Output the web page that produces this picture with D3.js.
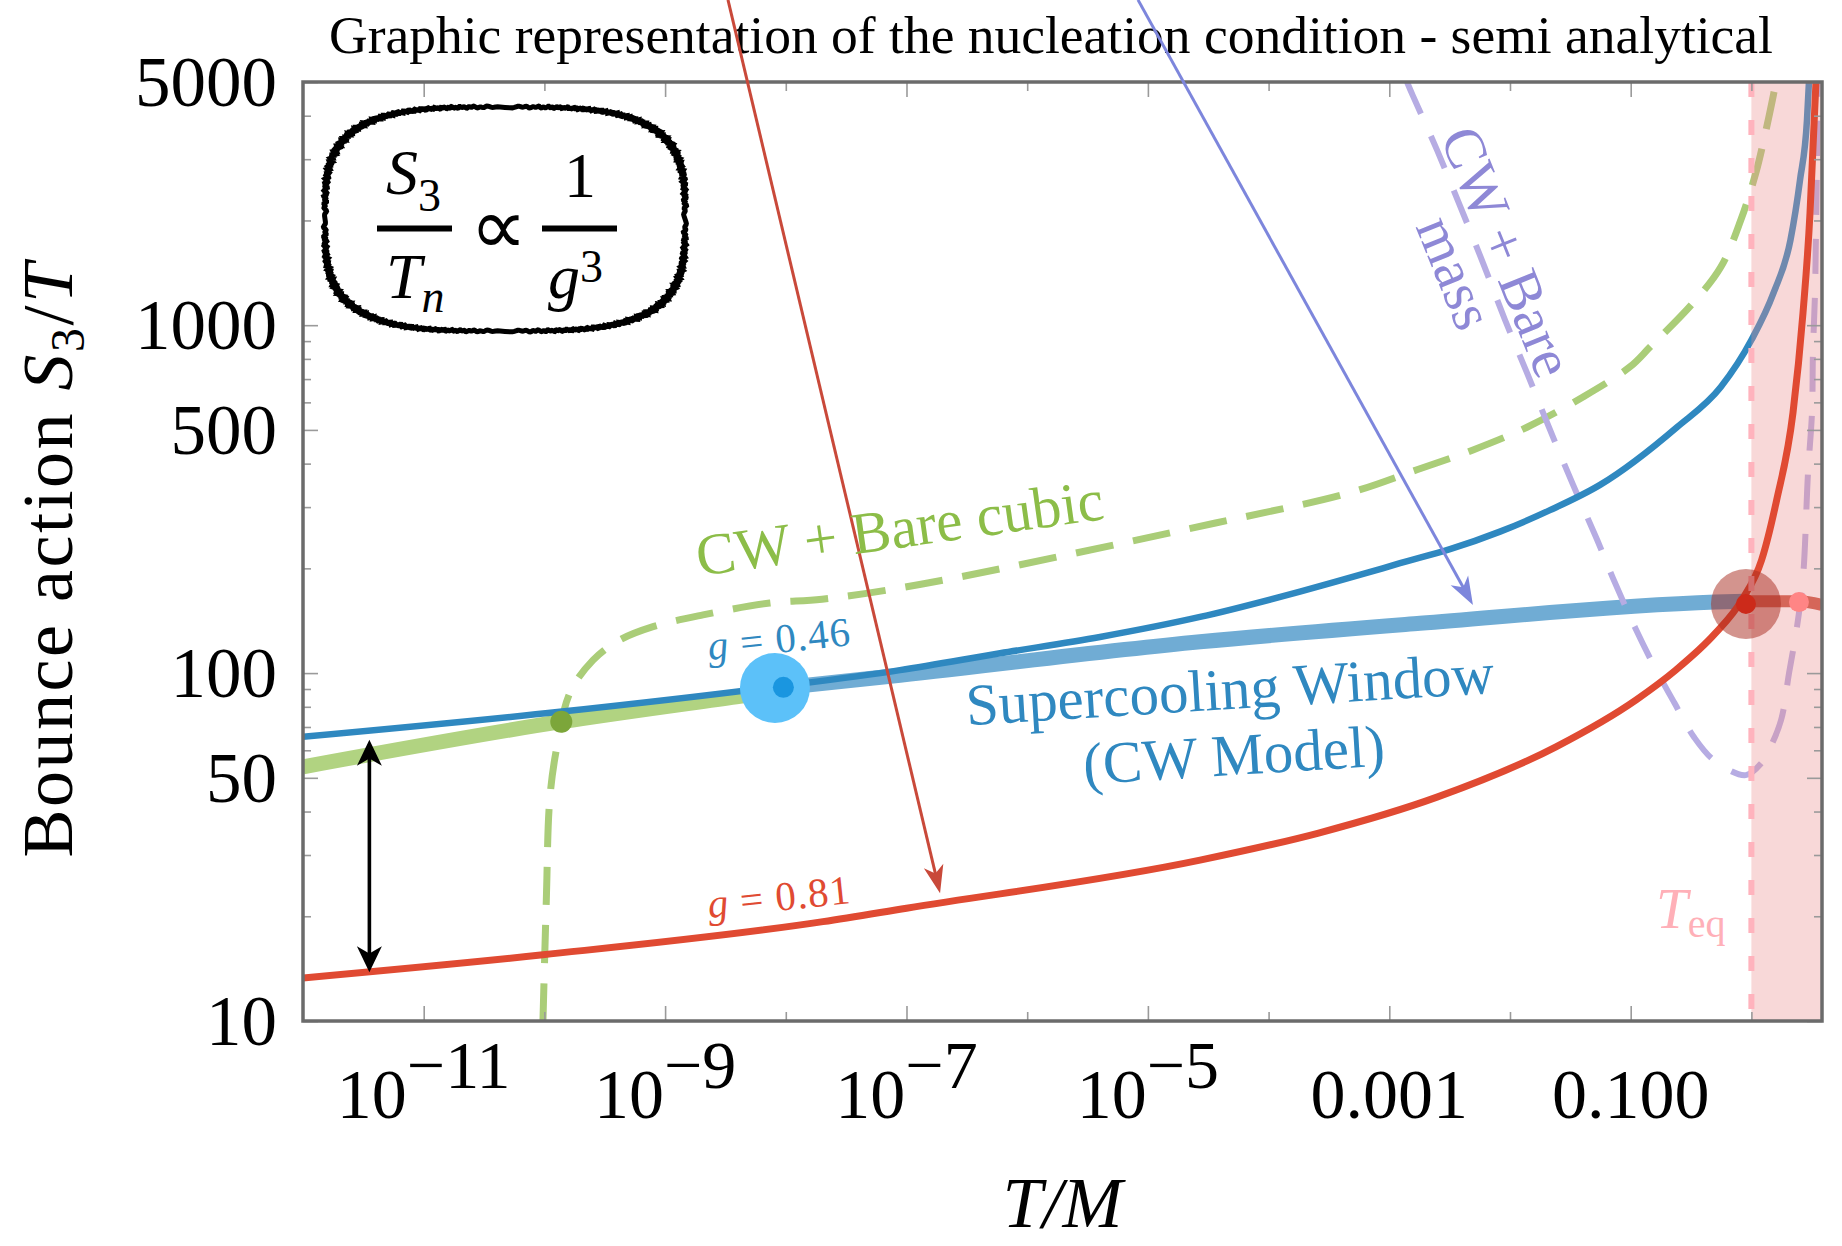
<!DOCTYPE html>
<html><head><meta charset="utf-8">
<script src="https://cdn.jsdelivr.net/npm/d3@7"></script>
<style>
html,body{margin:0;padding:0;background:#fff;}
svg{display:block;font-family:"Liberation Serif","Times New Roman",serif;}
</style></head>
<body><div id="chart"></div>
<script>
// values: log10(T/M) and S3/T
const cwLogT = [-12, -9.873, -8.079, -7.054, -6.225, -5.397, -4.568, -3.740, -3.187, -2.911, -2.497, -2.083, -1.669, -1.254, -0.617, -0.2535, 0.0, 0.1835, 0.324, 0.4027, 0.4607, 0.477];
const cwS    = [65.6, 77.4, 91.4, 102, 114, 127, 145, 171.5, 194, 207, 227, 255, 294, 347.5, 509, 664, 906, 1238, 1760, 2613, 3890, 5000];

const strongLogT = [-12, -10.012, -7.692, -7, -4.568, -3.586, -2.605, -1.619, -0.9545, -0.627, -0.300, -0.08, 0.084, 0.209, 0.3446, 0.4275, 0.4855, 0.5104, 0.535];
const strongS    = [13.3, 15.5, 19.3, 21.1, 29.0, 34.7, 44.0, 61.4, 83.8, 102, 130, 162, 211, 314, 560, 1084, 2099, 3251, 5000];

const cubicLogT = [-10.012, -9.984, -9.956, -9.901, -9.790, -9.597, -9.376, -9.100, -8.686, -8.133, -7.70, -6.88, -4.44, -3.326, -2.771, -2.306, -1.859, -1.395, -1.006, -0.840, -0.484, -0.2535, -0.0878, 0.0365, 0.1028, 0.1856, 0.202];
const cubicS    = [10, 22.3, 43.2, 60.2, 87.5, 109, 124.5, 136, 147, 159, 163, 180, 270, 330, 384, 438, 509, 622, 759, 865, 1158, 1469, 2005, 2737, 3404, 4645, 5000];

const massLogT = [-2.853, -2.804, -2.605, -2.414, -2.224, -2.041, -1.859, -1.668, -1.478, -1.279, -1.147, -0.965, -0.801, -0.637, -0.476, -0.310, -0.047, 0.084, 0.146, 0.246, 0.312, 0.378, 0.428, 0.469, 0.502, 0.510, 0.527, 0.535, 0.542, 0.546, 0.548];
const massS    = [5000, 4560, 3190, 2203, 1511, 1035, 729, 500, 348, 242, 187.5, 135.5, 104, 82, 65.5, 56.2, 50.9, 55.2, 60.1, 73.3, 100, 136, 189, 376, 560, 832, 1238, 1841, 2737, 4080, 5000];

// thick bands: valid cubic branch, supercooling window, past T_eq
const cubicBandLogT = [-12, -9.86, -8.41, -8.0];
const cubicBandS    = [53.8, 72.5, 85.5, 89.5];
const windowLogT = [-8.0, -7.054, -4.568, -2.746, -0.3, -0.05];
const windowS    = [91, 98.6, 123, 139, 160, 161];
const pastLogT = [-0.05, 0.40, 0.585];
const pastS    = [161, 161, 157];

// special points
const cubicDot = [-9.86, 72.5];
const weakDot = [-8.09, 90.6];
const weakCore = [-8.02, 91];
const eqDot = [-0.045, 158];
const pastDot = [0.394, 160];
const teqLogT = 0;

// arrows [logT, S] from -> to
const strongArrow = [[-8.479, 8610], [-6.722, 23.3]];
const massArrow = [[-5.082, 8610], [-2.307, 157]];
const gapArrow = [[-11.45, 13.8], [-11.45, 64.3]];

// axes
const xMajor = [1e-11, 1e-9, 1e-7, 1e-5, 1e-3, 1e-1];
const xMajorExp = ['11', '9', '7', '5', null, null];
const xMajorText = ['10', '10', '10', '10', '0.001', '0.100'];
const xMinor = [1e-10, 1e-8, 1e-6, 1e-4, 1e-2, 1];
const yMajor = [10, 50, 100, 500, 1000, 5000];
const yMinor = [20, 30, 40, 60, 70, 80, 90, 200, 300, 400, 600, 700, 800, 900, 2000, 3000, 4000];

const W = 1842, H = 1246;
const L = 303, R = 1822, T = 82, B = 1021;

const svg = d3.select('#chart').append('svg').attr('width', W).attr('height', H);

const x = d3.scaleLog().domain([1e-12, Math.pow(10, 0.585)]).range([L, R]);
const y = d3.scaleLog().domain([10, 5000]).range([B, T]);
const px = e => x(Math.pow(10, e));

svg.append('defs').append('clipPath').attr('id', 'plotClip')
  .append('rect').attr('x', L).attr('y', T).attr('width', R - L).attr('height', B - T);

const plotG = svg.append('g').attr('clip-path', 'url(#plotClip)');
const smooth = d3.line().x(d => px(d[0])).y(d => y(d[1])).curve(d3.curveMonotoneX);
const line = d3.line().x(d => px(d[0])).y(d => y(d[1])).curve(d3.curveCatmullRom.alpha(0.5));
const zip = (a, b) => a.map((v, i) => [v, b[i]]);

// bands first
plotG.append('path').attr('d', smooth(zip(cubicBandLogT, cubicBandS)))
  .attr('fill', 'none').attr('stroke', '#b1d381').attr('stroke-width', 15);
plotG.append('path').attr('d', smooth(zip(windowLogT, windowS)))
  .attr('fill', 'none').attr('stroke', '#70acd4').attr('stroke-width', 15);

// dashed curves
plotG.append('path').attr('d', line(zip(cubicLogT, cubicS)))
  .attr('fill', 'none').attr('stroke', '#aacd78').attr('stroke-width', 7).attr('stroke-dasharray', '38,20');
plotG.append('path').attr('d', line(zip(massLogT, massS)))
  .attr('fill', 'none').attr('stroke', '#b6ace3').attr('stroke-width', 6).attr('stroke-dasharray', '35,24');

// CW model curve
plotG.append('path').attr('d', smooth(zip(cwLogT, cwS)))
  .attr('fill', 'none').attr('stroke', '#2f88c0').attr('stroke-width', 6.5);

// region beyond T_eq
plotG.append('rect').attr('x', px(teqLogT)).attr('y', T).attr('width', R - px(teqLogT)).attr('height', B - T)
  .attr('fill', 'rgb(235,140,140)').attr('fill-opacity', 0.34);

// strong coupling curve
plotG.append('path').attr('d', smooth(zip(strongLogT, strongS)))
  .attr('fill', 'none').attr('stroke', '#e04a32').attr('stroke-width', 7);

plotG.append('path').attr('d', smooth(zip(pastLogT, pastS)))
  .attr('fill', 'none').attr('stroke', '#cc4a3a').attr('stroke-opacity', 0.8).attr('stroke-width', 12);

// T_eq line
plotG.append('line').attr('x1', px(teqLogT)).attr('x2', px(teqLogT)).attr('y1', T).attr('y2', B)
  .attr('stroke', '#ffb3bd').attr('stroke-width', 6).attr('stroke-dasharray', '15,23');

// dots
plotG.append('circle').attr('cx', px(cubicDot[0])).attr('cy', y(cubicDot[1])).attr('r', 11).attr('fill', '#7ca63a');
plotG.append('circle').attr('cx', px(weakDot[0])).attr('cy', y(weakDot[1])).attr('r', 35).attr('fill', '#5cc1f9');
plotG.append('circle').attr('cx', px(weakCore[0])).attr('cy', y(weakCore[1])).attr('r', 10.5).attr('fill', '#1a96e0');
plotG.append('circle').attr('cx', px(eqDot[0])).attr('cy', y(eqDot[1])).attr('r', 35).attr('fill', '#a82a1e').attr('fill-opacity', 0.5);
plotG.append('circle').attr('cx', px(eqDot[0])).attr('cy', y(eqDot[1])).attr('r', 10).attr('fill', '#cc2a1a');
plotG.append('circle').attr('cx', px(pastDot[0])).attr('cy', y(pastDot[1])).attr('r', 10).attr('fill', '#ff8585');

// frame and ticks
const tickStyle = g => {
  g.select('.domain').remove();
  g.selectAll('.tick line').attr('stroke', '#9a9a9a').attr('stroke-width', 1.6);
};
const addTicks = (axisFn, scale, vals, size, tr) => {
  svg.append('g').attr('transform', tr)
    .call(axisFn(scale).tickValues(vals).tickSize(size).tickFormat(''))
    .call(tickStyle);
};
addTicks(d3.axisBottom, x, xMajor, 15, `translate(0,${T})`);
addTicks(d3.axisBottom, x, xMinor, 9, `translate(0,${T})`);
addTicks(d3.axisTop, x, xMajor, 15, `translate(0,${B})`);
addTicks(d3.axisTop, x, xMinor, 9, `translate(0,${B})`);
addTicks(d3.axisRight, y, yMajor, 15, `translate(${L},0)`);
addTicks(d3.axisRight, y, yMinor, 8, `translate(${L},0)`);
addTicks(d3.axisLeft, y, yMajor, 15, `translate(${R},0)`);
addTicks(d3.axisLeft, y, yMinor, 8, `translate(${R},0)`);

svg.append('rect').attr('x', L).attr('y', T).attr('width', R - L).attr('height', B - T)
  .attr('fill', 'none').attr('stroke', '#6b6b6b').attr('stroke-width', 3.5);

// tick labels
svg.append('g').selectAll('text').data(yMajor).join('text')
  .attr('x', 277).attr('y', d => y(d)).attr('dy', '0.34em')
  .attr('text-anchor', 'end').attr('font-size', 71).text(d => d);

const xl = svg.append('g').selectAll('text').data(xMajor).join('text')
  .attr('x', d => x(d)).attr('y', 1118).attr('text-anchor', 'middle').attr('font-size', 70);
xl.append('tspan').text((d, i) => xMajorText[i]);
xl.filter((d, i) => xMajorExp[i] !== null).append('tspan')
  .attr('dy', -30).attr('font-size', 68).text(d => '\u2212' + xMajorExp[xMajor.indexOf(d)]);

// axis titles
svg.append('text').attr('x', (L + R) / 2).attr('y', 1227).attr('text-anchor', 'middle')
  .attr('font-size', 72).attr('font-style', 'italic').text('T/M');
const yt = svg.append('text').attr('transform', 'translate(72,559) rotate(-90)')
  .attr('text-anchor', 'middle').attr('font-size', 72).attr('letter-spacing', 2.5);
yt.append('tspan').text('Bounce action ');
yt.append('tspan').attr('font-style', 'italic').text('S');
yt.append('tspan').attr('font-size', 48).attr('dy', 12).text('3');
yt.append('tspan').attr('dy', -12).text('/');
yt.append('tspan').attr('font-style', 'italic').text('T');

svg.append('text').attr('x', 1051).attr('y', 53).attr('text-anchor', 'middle').attr('font-size', 53.5)
  .text('Graphic representation of the nucleation condition - semi analytical');

// arrows
function arrow(pts, color, width, headLen, headW, both) {
  const p0 = [px(pts[0][0]), y(pts[0][1])];
  const p1 = [px(pts[1][0]), y(pts[1][1])];
  const dx = p1[0] - p0[0], dy = p1[1] - p0[1];
  const len = Math.hypot(dx, dy), ux = dx / len, uy = dy / len;
  const head = (tip, sx, sy) => {
    const bx = tip[0] - sx * headLen, by = tip[1] - sy * headLen;
    const nx = tip[0] - sx * headLen * 0.72, ny = tip[1] - sy * headLen * 0.72;
    svg.append('path')
      .attr('d', `M${tip[0]},${tip[1]}L${bx - sy * headW},${by + sx * headW}L${nx},${ny}L${bx + sy * headW},${by - sx * headW}Z`)
      .attr('fill', color);
  };
  const a = both ? [p0[0] + ux * headLen * 0.7, p0[1] + uy * headLen * 0.7] : p0;
  const b = [p1[0] - ux * headLen * 0.7, p1[1] - uy * headLen * 0.7];
  svg.append('line').attr('x1', a[0]).attr('y1', a[1]).attr('x2', b[0]).attr('y2', b[1])
    .attr('stroke', color).attr('stroke-width', width);
  head(p1, ux, uy);
  if (both) head(p0, -ux, -uy);
}
arrow(strongArrow, '#c9493a', 3, 28, 10, false);
arrow(massArrow, '#7d86dc', 3, 28, 10, false);
arrow(gapArrow, '#000', 3.6, 26, 12.5, true);

// curve labels
svg.append('text').attr('transform', 'translate(699,576) rotate(-8)')
  .attr('font-size', 59).attr('fill', '#8cbd48').text('CW + Bare cubic');

const g46 = svg.append('text').attr('transform', 'translate(709,660) rotate(-6)')
  .attr('font-size', 41).attr('letter-spacing', 1).attr('fill', '#2f88c0');
g46.append('tspan').attr('font-style', 'italic').text('g');
g46.append('tspan').text(' = 0.46');

const g81 = svg.append('text').attr('transform', 'translate(709,918) rotate(-6)')
  .attr('font-size', 41).attr('letter-spacing', 1).attr('fill', '#e04a32');
g81.append('tspan').attr('font-style', 'italic').text('g');
g81.append('tspan').text(' = 0.81');

const sw = svg.append('g').attr('transform', 'translate(1231,709) rotate(-3.5)')
  .attr('fill', '#2f88c0').attr('font-size', 59).attr('text-anchor', 'middle');
sw.append('text').attr('y', 0).text('Supercooling Window');
sw.append('text').attr('y', 66).text('(CW Model)');

const mass = svg.append('g').attr('transform', 'translate(1489,259) rotate(68)')
  .attr('fill', '#8e88d6').attr('font-size', 58).attr('text-anchor', 'middle');
mass.append('text').attr('y', 0).text('CW + Bare');
mass.append('text').attr('y', 56).text('mass');

const teq = svg.append('text').attr('x', 1656).attr('y', 928).attr('fill', '#ffb0b8').attr('font-size', 57);
teq.append('tspan').attr('font-style', 'italic').text('T');
teq.append('tspan').attr('font-size', 40).attr('dy', 9).text('eq');

// inset: scaling with the coupling
const cx = 505, cy = 219, ax = 180, by = 112;
const boxPts = d3.range(0, 2881).map(i => {
  const t = i / 2880 * 2 * Math.PI;
  const c = Math.cos(t), s = Math.sin(t);
  const w = 1 + 0.005 * Math.sin(t * 410) + 0.004 * Math.sin(t * 173);
  return [cx + w * ax * Math.sign(c) * Math.pow(Math.abs(c), 2 / 3.4),
          cy + w * by * Math.sign(s) * Math.pow(Math.abs(s), 2 / 3.4)];
});
svg.append('path').attr('d', d3.line()(boxPts) + 'Z')
  .attr('fill', 'none').attr('stroke', '#000').attr('stroke-width', 5);

const fr = svg.append('g').attr('font-size', 64);
fr.append('line').attr('x1', 377).attr('x2', 452).attr('y1', 228.5).attr('y2', 228.5).attr('stroke', '#000').attr('stroke-width', 6);
fr.append('line').attr('x1', 542).attr('x2', 617).attr('y1', 228.5).attr('y2', 228.5).attr('stroke', '#000').attr('stroke-width', 6);
const num1 = fr.append('text').attr('x', 386).attr('y', 194);
num1.append('tspan').attr('font-style', 'italic').text('S');
num1.append('tspan').attr('font-size', 46).attr('dy', 17).text('3');
const den1 = fr.append('text').attr('x', 386).attr('y', 298);
den1.append('tspan').attr('font-style', 'italic').text('T');
den1.append('tspan').attr('font-size', 46).attr('font-style', 'italic').attr('dy', 14).text('n');
fr.append('text').attr('x', 498).attr('y', 254).attr('text-anchor', 'middle').attr('font-size', 80).text('\u221D');
fr.append('text').attr('x', 580).attr('y', 197).attr('text-anchor', 'middle').text('1');
const den2 = fr.append('text').attr('x', 548).attr('y', 298);
den2.append('tspan').attr('font-style', 'italic').text('g');
den2.append('tspan').attr('font-size', 46).attr('dy', -16).text('3');
</script>
</body></html>
